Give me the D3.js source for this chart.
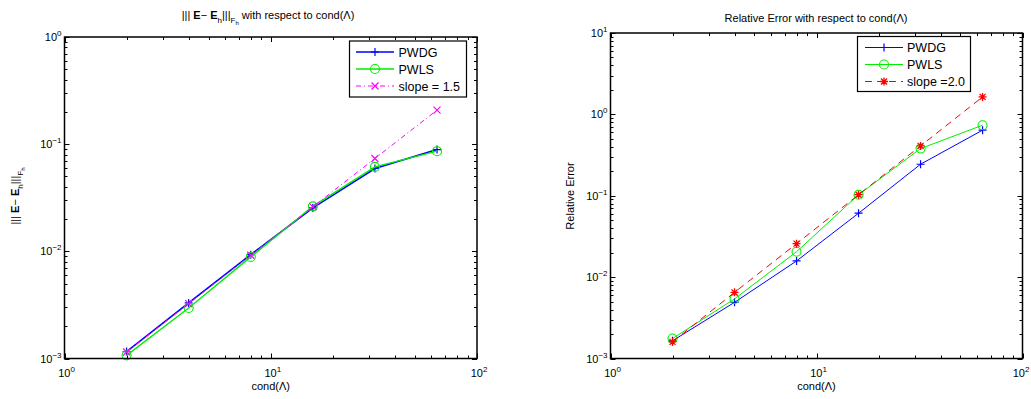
<!DOCTYPE html>
<html>
<head>
<meta charset="utf-8">
<script src="https://cdn.jsdelivr.net/npm/d3@7"></script>
<style>
  html, body { margin: 0; padding: 0; background: #fff; }
  svg { display: block; font-family: "Liberation Sans", Arial, Helvetica, sans-serif; }
</style>
</head>
<body>
<svg id="chart" width="1031" height="399"></svg>
<script>
// ---------- data ----------
const condValues = [2, 4, 8, 16, 32, 64];

// left panel: energy-norm error
const leftPWDG  = [1.16e-3, 3.3e-3, 9.3e-3, 2.54e-2, 5.93e-2, 8.9e-2];
const leftPWLS  = [1.07e-3, 2.96e-3, 8.87e-3, 2.63e-2, 6.14e-2, 8.6e-2];
const leftSlope = [1.15e-3, 3.25e-3, 9.2e-3, 2.6e-2, 7.35e-2, 2.08e-1];

// right panel: relative error
const rightPWDG  = [1.65e-3, 4.9e-3, 1.58e-2, 6.1e-2, 2.44e-1, 6.4e-1];
const rightPWLS  = [1.76e-3, 5.4e-3, 2.05e-2, 1.03e-1, 3.8e-1, 7.36e-1];
const rightSlope = [1.6e-3, 6.5e-3, 2.58e-2, 1.03e-1, 4.1e-1, 1.64];

const xTickExps = [0, 1, 2];
const leftYTickExps = [-3, -2, -1, 0];
const rightYTickExps = [-3, -2, -1, 0, 1];

const leftLegend = ["PWDG", "PWLS", "slope = 1.5"];
const rightLegend = ["PWDG", "PWLS", "slope =2.0"];

// ---------- drawing ----------
const svg = d3.select("#chart");
const FS = 11;
const W = 1031;

function powLabel(sel, exp) {
  sel.append("tspan").text("10");
  sel.append("tspan").attr("font-size", 8).attr("dy", -5)
     .text(exp < 0 ? "\u2212" + Math.abs(exp) : String(exp));
}

function marker(g, type, x, y, color) {
  if (type === "plus") {
    g.append("path").attr("d", `M${x-4},${y}H${x+4}M${x},${y-4}V${y+4}`)
      .attr("stroke", color).attr("stroke-width", 1.2).attr("fill", "none");
  } else if (type === "circle") {
    g.append("circle").attr("cx", x).attr("cy", y).attr("r", 4.5)
      .attr("stroke", color).attr("stroke-width", 1.1).attr("fill", "none");
  } else if (type === "x") {
    g.append("path").attr("d", `M${x-3.5},${y-3.5}L${x+3.5},${y+3.5}M${x-3.5},${y+3.5}L${x+3.5},${y-3.5}`)
      .attr("stroke", color).attr("stroke-width", 1.2).attr("fill", "none");
  } else if (type === "star") {
    g.append("path").attr("d", `M${x-4},${y}H${x+4}M${x},${y-4}V${y+4}M${x-3},${y-3}L${x+3},${y+3}M${x-3},${y+3}L${x+3},${y-3}`)
      .attr("stroke", color).attr("stroke-width", 1.3).attr("fill", "none");
  }
}

function panel(cfg) {
  const x = d3.scaleLog().domain([1, 100]).range([cfg.x0, cfg.x1]);
  const y = d3.scaleLog().domain(cfg.yDomain).range([cfg.y1, cfg.y0]);
  const g = svg.append("g");

  // ticks (inward, on all four sides)
  const xMinor = [], yMinor = [];
  for (let e = 0; e < 2; e++) for (let k = 2; k <= 9; k++) xMinor.push(k * Math.pow(10, e));
  const [ylo, yhi] = cfg.yDomain.map(v => Math.round(Math.log10(v)));
  for (let e = ylo; e < yhi; e++) for (let k = 2; k <= 9; k++) yMinor.push(k * Math.pow(10, e));
  const tk = g.append("g").attr("stroke", "#000").attr("stroke-width", 1);
  const xMajor = xTickExps.map(e => Math.pow(10, e));
  const yMajor = cfg.yTicks.map(e => Math.pow(10, e));
  xMajor.concat(xMinor).forEach((v, i) => {
    const len = i < xMajor.length ? 5 : 3;
    const px = Math.round(x(v)) + 0.5;
    tk.append("line").attr("x1", px).attr("x2", px).attr("y1", cfg.y1).attr("y2", cfg.y1 - len);
    tk.append("line").attr("x1", px).attr("x2", px).attr("y1", cfg.y0).attr("y2", cfg.y0 + len);
  });
  yMajor.concat(yMinor).forEach((v, i) => {
    const len = i < yMajor.length ? 5 : 3;
    const py = Math.round(y(v)) + 0.5;
    tk.append("line").attr("y1", py).attr("y2", py).attr("x1", cfg.x0).attr("x2", cfg.x0 + len);
    tk.append("line").attr("y1", py).attr("y2", py).attr("x1", cfg.x1).attr("x2", cfg.x1 - len);
  });

  // tick labels
  xTickExps.forEach(e => {
    const t = g.append("text").attr("x", x(Math.pow(10, e)) + 2).attr("y", cfg.y1 + 18.5)
      .attr("text-anchor", "middle").attr("font-size", FS);
    powLabel(t, e);
    const bb = t.node().getBBox();
    if (bb.x + bb.width > W - 1) t.attr("x", +t.attr("x") - (bb.x + bb.width - (W - 1)));
  });
  cfg.yTicks.forEach(e => {
    const t = g.append("text").attr("x", cfg.x0 - 3).attr("y", y(Math.pow(10, e)) + 4)
      .attr("text-anchor", "end").attr("font-size", FS);
    powLabel(t, e);
  });

  // series
  const line = d3.line().x((d, i) => x(condValues[i])).y(d => y(d));
  cfg.series.forEach(s => {
    g.append("path").datum(s.values).attr("d", line)
      .attr("fill", "none").attr("stroke", s.color).attr("stroke-width", s.width)
      .attr("stroke-dasharray", s.dash || null);
    s.values.forEach((v, i) => marker(g, s.marker, x(condValues[i]), y(v), s.color));
  });

  // frame
  g.append("rect").attr("x", cfg.x0).attr("y", cfg.y0)
    .attr("width", cfg.x1 - cfg.x0).attr("height", cfg.y1 - cfg.y0)
    .attr("fill", "none").attr("stroke", "#000").attr("stroke-width", 1.5);

  // legend
  const L = cfg.legend;
  g.append("rect").attr("x", L.x).attr("y", L.y).attr("width", L.w).attr("height", L.h)
    .attr("fill", "#fff").attr("stroke", "#000").attr("stroke-width", 1.2);
  cfg.series.forEach((s, i) => {
    const ry = L.rows[i];
    g.append("line").attr("x1", L.lx0).attr("x2", L.lx1).attr("y1", ry).attr("y2", ry)
      .attr("stroke", s.color).attr("stroke-width", s.width).attr("stroke-dasharray", s.dash || null);
    marker(g, s.marker, (L.lx0 + L.lx1) / 2, ry, s.color);
    g.append("text").attr("x", L.tx).attr("y", ry + 4.5).attr("font-size", 12.5).text(L.labels[i]);
  });

  // x label
  g.append("text").attr("x", (cfg.x0 + cfg.x1) / 2).attr("y", 390)
    .attr("text-anchor", "middle").attr("font-size", FS).text("cond(\u039B)");
  return { x, y, g };
}

// left panel
panel({
  x0: 64.5, x1: 477, y0: 37, y1: 358.5,
  yDomain: [1e-3, 1], yTicks: leftYTickExps,
  series: [
    { values: leftPWDG, color: "#0000ff", width: 1.6, marker: "plus" },
    { values: leftPWLS, color: "#00ee00", width: 1.4, marker: "circle" },
    { values: leftSlope, color: "#ff00ff", width: 1, marker: "x", dash: "5,3,1,3" }
  ],
  legend: { x: 349.5, y: 41, w: 117, h: 56, rows: [52, 69, 86], lx0: 356, lx1: 394, tx: 398.5, labels: leftLegend }
});

// right panel
panel({
  x0: 610.5, x1: 1022.5, y0: 33, y1: 358.5,
  yDomain: [1e-3, 10], yTicks: rightYTickExps,
  series: [
    { values: rightPWDG, color: "#0000ff", width: 1, marker: "plus" },
    { values: rightPWLS, color: "#00ee00", width: 1, marker: "circle" },
    { values: rightSlope, color: "#ff0000", width: 1, marker: "star", dash: "7,5" }
  ],
  legend: { x: 857.5, y: 36.5, w: 113, h: 55, rows: [47.5, 64.5, 81.5], lx0: 865, lx1: 903, tx: 907, labels: rightLegend }
});

// titles
const t1 = svg.append("text").attr("x", 268).attr("y", 18.5).attr("text-anchor", "middle").attr("font-size", FS);
t1.append("tspan").text("||| ");
t1.append("tspan").attr("font-weight", "bold").text("E");
t1.append("tspan").text("\u2212 ");
t1.append("tspan").attr("font-weight", "bold").text("E");
t1.append("tspan").attr("font-size", 8).attr("dy", 4).text("h");
t1.append("tspan").attr("dy", -4).text("|||");
t1.append("tspan").attr("font-size", 8).attr("dy", 4).text("F");
t1.append("tspan").attr("font-size", 6).attr("dy", 2).text("h");
t1.append("tspan").attr("dy", -6).text(" with respect to cond(\u039B)");

svg.append("text").attr("x", 816).attr("y", 22).attr("text-anchor", "middle").attr("font-size", FS)
  .text("Relative Error with respect to cond(\u039B)");

// y labels
const yl1 = svg.append("text").attr("transform", "translate(18.5,196) rotate(-90)")
  .attr("text-anchor", "middle").attr("font-size", FS);
yl1.append("tspan").text("||| ");
yl1.append("tspan").attr("font-weight", "bold").text("E");
yl1.append("tspan").text("\u2212 ");
yl1.append("tspan").attr("font-weight", "bold").text("E");
yl1.append("tspan").attr("font-size", 8).attr("dy", 4).text("h");
yl1.append("tspan").attr("dy", -4).text("|||");
yl1.append("tspan").attr("font-size", 8).attr("dy", 4).text("F");
yl1.append("tspan").attr("font-size", 6).attr("dy", 2).text("h");

svg.append("text").attr("transform", "translate(574,196) rotate(-90)")
  .attr("text-anchor", "middle").attr("font-size", FS).text("Relative Error");
</script>
</body>
</html>
